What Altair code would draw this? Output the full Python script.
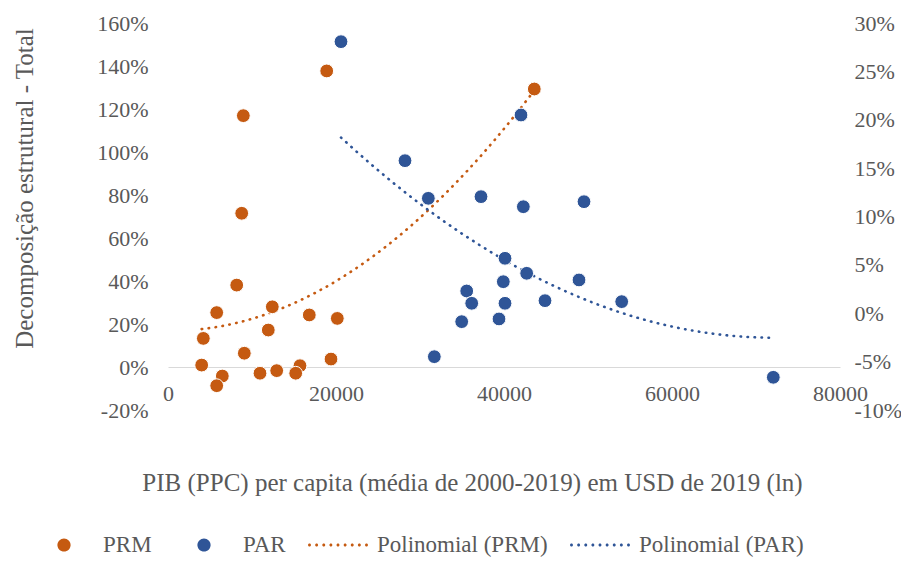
import altair as alt
import pandas as pd

# ---- data ----
prm_x = [8774, 8179, 5797, 12417, 11940, 16821, 20155, 4206, 9087, 4008,
         19405, 6468, 5797, 10952, 12940, 15714, 15202, 8968, 18893, 43607]
prm_y = [0.715, 0.381, 0.253, 0.280, 0.172, 0.242, 0.226, 0.133, 0.064, 0.009,
         0.037, -0.042, -0.087, -0.029, -0.017, 0.006, -0.029, 1.169, 1.377, 1.293]

par_x = [20595, 28214, 42024, 30992, 37262, 42302, 49524, 40119, 42698, 39917,
         48929, 35560, 36155, 40119, 44881, 54012, 34964, 39405, 31706, 72060]
par_y = [0.2807, 0.1577, 0.2049, 0.1188, 0.1205, 0.1101, 0.1153, 0.0568, 0.0413, 0.0326,
         0.0344, 0.0230, 0.0103, 0.0103, 0.0130, 0.0120, -0.0087, -0.0059, -0.0449, -0.0662]

x_ticks = [0, 20000, 40000, 60000, 80000]
left_ticks = [-0.2, 0.0, 0.2, 0.4, 0.6, 0.8, 1.0, 1.2, 1.4, 1.6]
right_ticks = [-0.1, -0.05, 0.0, 0.05, 0.1, 0.15, 0.2, 0.25, 0.3]
legend_labels = ["PRM", "PAR", "Polinomial (PRM)", "Polinomial (PAR)"]

x_title = "PIB (PPC) per capita (média de 2000-2019) em USD de 2019 (ln)"
y_title = "Decomposição estrutural - Total"

# ---- style ----
ORANGE = "#C55A11"
BLUE = "#2F5597"
GRAY = "#595959"
FONT = "Liberation Serif"

prm = pd.DataFrame({"x": prm_x, "y": prm_y})
par = pd.DataFrame({"x": par_x, "y": par_y})
leg = pd.DataFrame({"x": [-100000] * 4, "y": [0.0] * 4, "serie": legend_labels})

# legend symbol paths (unit box -1..1)
r = 0.22
circle_path = f"M{-r},0A{r},{r} 0 1,0 {r},0A{r},{r} 0 1,0 {-r},0Z"
dr = 0.05
dots = []
for i in range(9):
    cx = -0.95 + i * 0.2375
    dots.append(f"M{cx - dr:.4f},0A{dr},{dr} 0 1,0 {cx + dr:.4f},0A{dr},{dr} 0 1,0 {cx - dr:.4f},0Z")
dots_path = "".join(dots)

x_axis = alt.Axis(
    values=x_ticks, format="d", offset=-43, domain=True, domainColor="#D9D9D9",
    domainWidth=1, ticks=False, tickSize=0, grid=False, labelPadding=16,
    labelFlush=False, labelFont=FONT, labelFontSize=22, labelColor=GRAY,
    title=x_title, titleFont=FONT, titleFontSize=25, titleFontWeight="normal",
    titleColor=GRAY, titleX=304, titleY=115, titleBaseline="middle", titleAlign="center",
    titleLimit=900,
)
x_enc = alt.X("x:Q", scale=alt.Scale(domain=[0, 80000], nice=False), axis=x_axis)

left_axis = alt.Axis(
    orient="left", values=left_ticks, labelExpr="round(datum.value*100) + '%'",
    domain=False, ticks=False, tickSize=0, grid=False, labelPadding=20, labelFlush=False,
    labelFont=FONT, labelFontSize=22, labelColor=GRAY,
    title=y_title, titleFont=FONT, titleFontSize=25, titleFontWeight="normal",
    titleColor=GRAY, titleX=-131, titleY=165, titleAngle=270, titleBaseline="bottom",
    titleAlign="center", titleLimit=500,
)
right_axis = alt.Axis(
    orient="right", values=right_ticks, labelExpr="round(datum.value*100) + '%'",
    domain=False, ticks=False, tickSize=0, grid=False, labelPadding=14, labelFlush=False,
    labelFont=FONT, labelFontSize=22, labelColor=GRAY, title=None,
)
yl = alt.Y("y:Q", scale=alt.Scale(domain=[-0.2, 1.6], nice=False), axis=left_axis)
yr = alt.Y("y:Q", scale=alt.Scale(domain=[-0.1, 0.3], nice=False), axis=right_axis)

prm_pts = alt.Chart(prm).mark_circle(size=190, color=ORANGE, opacity=1,
                                     stroke="white", strokeWidth=1).encode(x=x_enc, y=yl)
prm_trend = alt.Chart(prm).transform_regression(
    "x", "y", method="poly", order=2
).mark_line(color=ORANGE, strokeWidth=2.6, strokeDash=[0.5, 6.5],
            strokeCap="round").encode(x=x_enc, y=yl)

legend = alt.Legend(
    title=None, orient="none", legendX=-134, legendY=492, direction="horizontal",
    columns=4, symbolSize=3600, labelFont=FONT, labelFontSize=23, labelColor=GRAY,
    labelOffset=9, columnPadding=22, padding=0, symbolStrokeWidth=0, labelLimit=400,
)
leg_layer = alt.Chart(leg).mark_point(filled=True, size=3600, opacity=1, clip=True).encode(
    x=x_enc, y=yl,
    color=alt.Color("serie:N", scale=alt.Scale(domain=legend_labels,
                                               range=[ORANGE, BLUE, ORANGE, BLUE]),
                    legend=legend),
    shape=alt.Shape("serie:N", scale=alt.Scale(domain=legend_labels,
                                               range=[circle_path, circle_path, dots_path, dots_path]),
                    legend=legend),
)

par_pts = alt.Chart(par).mark_circle(size=190, color=BLUE, opacity=1,
                                     stroke="white", strokeWidth=1).encode(x=x_enc, y=yr)
par_trend = alt.Chart(par).transform_regression(
    "x", "y", method="poly", order=2
).mark_line(color=BLUE, strokeWidth=2.6, strokeDash=[0.5, 6.5],
            strokeCap="round").encode(x=x_enc, y=yr)

left = alt.layer(prm_trend, prm_pts, leg_layer)
right = alt.layer(par_trend, par_pts)

chart = alt.layer(left, right).resolve_scale(y="independent").properties(
    width=672, height=387,
    autosize=alt.AutoSizeParams(type="none"),
    padding={"left": 160, "top": 15, "right": 61, "bottom": 149},
    background="white",
).configure_view(stroke=None)

chart.save("out.html", embed_options={"renderer": "svg", "actions": False})
